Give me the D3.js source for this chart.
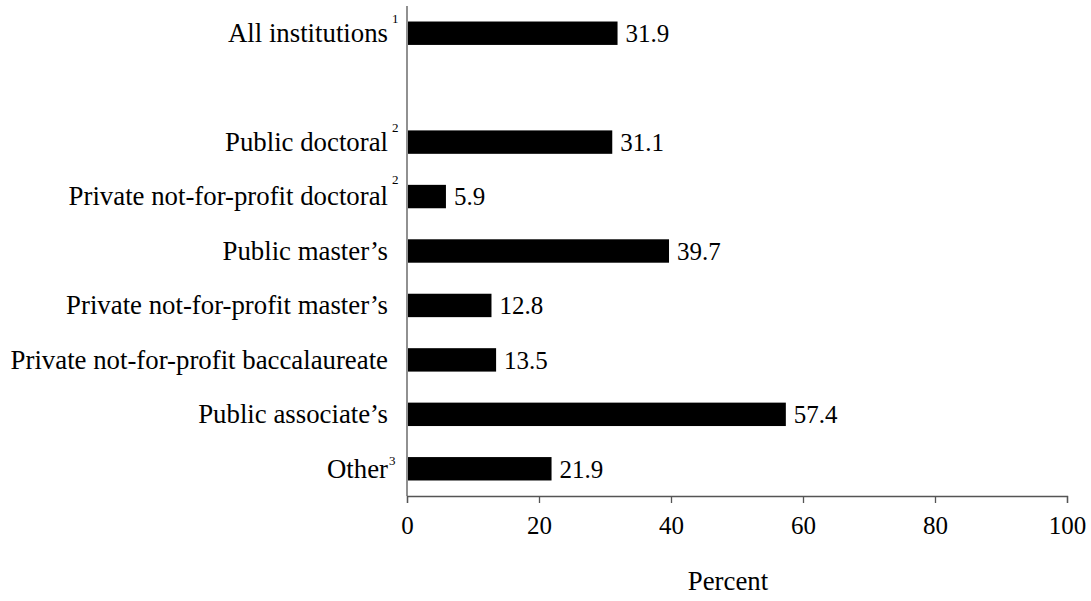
<!DOCTYPE html>
<html>
<head>
<meta charset="utf-8">
<script src="https://cdn.jsdelivr.net/npm/d3@7"></script>
<style>
  body { margin: 0; background: #fff; }
  svg text { font-family: 'Liberation Serif', 'Times New Roman', serif !important; fill: #000; }
</style>
</head>
<body>
<div id="chart"></div>
<script>
// categories, top to bottom ("" is the blank gap under the total)
var categories = ["All institutions", "", "Public doctoral", "Private not-for-profit doctoral",
    "Public master\u2019s", "Private not-for-profit master\u2019s",
    "Private not-for-profit baccalaureate", "Public associate\u2019s", "Other"];
var notes = ["1", "", "2", "2", "", "", "", "", "3"];
var values = [31.9, null, 31.1, 5.9, 39.7, 12.8, 13.5, 57.4, 21.9];
var xTicks = [0, 20, 40, 60, 80, 100];

var svgWidth = 1091, svgHeight = 601;
var margin = { top: 6, left: 407, right: 24, bottom: 105 };

var svg = d3.select("#chart").append("svg")
    .attr("width", svgWidth).attr("height", svgHeight);

var xScale = d3.scaleLinear()
    .domain([0, 100])
    .range([margin.left, svgWidth - margin.right]);

var yScale = d3.scaleBand()
    .domain(categories.map((c, i) => i))
    .range([margin.top, svgHeight - margin.bottom])
    .paddingInner(0.57).paddingOuter(0.285);

var axisColor = "#555";
var numSize = 25;     // digits
var wordSize = 26.8;  // category labels and title

// x axis
var xAxis = d3.axisBottom(xScale).tickValues(xTicks).tickSize(7).tickPadding(13);
var xg = svg.append("g")
    .attr("transform", `translate(0, ${svgHeight - margin.bottom})`)
    .call(xAxis);
xg.select(".domain").attr("stroke", axisColor).attr("stroke-width", 1.3);
xg.selectAll(".tick line").attr("stroke", axisColor).attr("stroke-width", 1.3);
xg.selectAll(".tick text")
    .attr("font-size", numSize)
    .attr("fill", "#000");

// y axis line only
svg.append("line")
    .attr("x1", margin.left).attr("x2", margin.left)
    .attr("y1", margin.top).attr("y2", svgHeight - margin.bottom)
    .attr("stroke", axisColor).attr("stroke-width", 1.3);

var rows = categories.map((c, i) => ({ cat: c, note: notes[i], value: values[i], i: i }))
    .filter(d => d.value !== null);

// bars
svg.selectAll("rect.bar").data(rows).enter().append("rect")
    .attr("class", "bar")
    .attr("x", xScale(0) + 1)
    .attr("y", d => yScale(d.i))
    .attr("width", d => xScale(d.value) - xScale(0) - 1)
    .attr("height", yScale.bandwidth())
    .attr("fill", "#000");

// value labels
svg.selectAll("text.val").data(rows).enter().append("text")
    .attr("class", "val")
    .attr("x", d => xScale(d.value) + 8)
    .attr("y", d => yScale(d.i) + yScale.bandwidth() / 2)
    .attr("dy", "0.35em")
    .attr("font-size", numSize)
    .text(d => d.value.toFixed(1));

// category labels with superscript notes
var labels = svg.selectAll("g.lab").data(rows).enter().append("g")
    .attr("class", "lab")
    .attr("transform", d => `translate(${margin.left - 19}, ${yScale(d.i) + yScale.bandwidth() / 2})`);
labels.append("text")
    .attr("text-anchor", "end")
    .attr("dy", "0.33em")
    .attr("font-size", wordSize)
    .text(d => d.cat);
labels.filter(d => d.note).append("text")
    .attr("x", d => d.cat === "Other" ? 1 : 4)
    .attr("y", d => d.cat === "Other" ? -4 : d.cat.startsWith("Private") ? -13 : -10)
    .attr("font-size", 13)
    .text(d => d.note);

// axis title
svg.append("text")
    .attr("x", (xScale(0) + xScale(100)) / 2 - 9)
    .attr("y", 590)
    .attr("text-anchor", "middle")
    .attr("font-size", wordSize)
    .text("Percent");
</script>
</body>
</html>
